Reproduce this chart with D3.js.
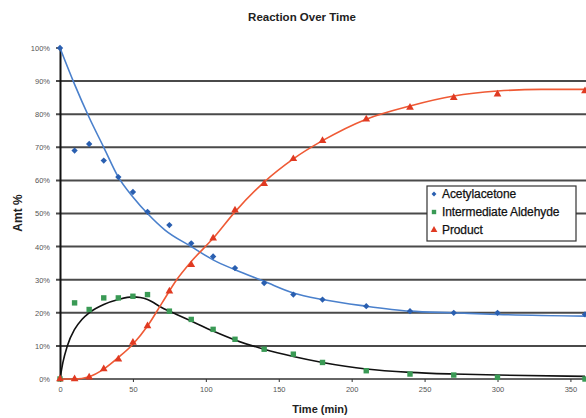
<!DOCTYPE html>
<html><head><meta charset="utf-8">
<script src="https://cdn.jsdelivr.net/npm/d3@7"></script>
<style>body{margin:0;background:#fff}svg{display:block;font-family:"Liberation Sans",Arial,sans-serif}</style>
</head><body><svg id="c" width="586" height="418"></svg>
<script>
// Measured data points
const times = [0,10,20,30,40,50,60,75,90,105,120,140,160,180,210,240,270,300,360];
const acetylacetone = [100,69,71,66,61,56.5,50.5,46.5,41,37,33.5,29,25.5,24,22,20.5,20,20,19.5];
const intermediate = [0,23,21,24.5,24.5,25,25.5,20.5,18,15,12,9,7.5,5,2.5,1.5,1.2,0.5,0];
const product = [0,0,0.5,3,6,11,16,26.5,34.5,42.5,51,59,66.5,72,78.5,82,85,86,87];
// Fitted curves
const fitAcetTimes = [0,10,20,30,40,50,60,72,90,105,120,140,160,180,210,240,270,300,360];
const fitAcet = [100,89,79,70,61,55,50,45,40,36,33,29.5,26,24,22,20.5,20,19.5,19];
const fitInterTimes = [0,2,5,10,15,20,30,40,50,55,60,70,80,90,105,120,140,160,180,210,240,270,300,360];
const fitInter = [0,5,10,15,18,20,22.5,24,24.8,24.6,24,21.5,19.5,17.5,14.5,11.8,9,6.8,5,3,2,1.5,1.2,0.8];
const fitProdTimes = [0,10,20,30,40,50,60,70,80,90,105,120,140,160,180,210,240,270,300,330,360];
const fitProd = [0,0,0.7,3,6.5,10.5,16,23,30,35.5,42.5,50.5,59.5,66.5,72,78.5,82.5,85.5,87,87.5,87.5];
const xTicks = [0,50,100,150,200,250,300,350];
const yTicks = [0,10,20,30,40,50,60,70,80,90,100];
const seriesNames = ["Acetylacetone","Intermediate Aldehyde","Product"];

const svg = d3.select("#c");
const x = d3.scaleLinear().domain([0,360]).range([60,585]);
const y = d3.scaleLinear().domain([0,100]).range([379,48]);

// Gridlines
svg.append("g").selectAll("line").data(yTicks.filter(d=>d>0 && d<100)).join("line")
  .attr("x1",56).attr("x2",586).attr("y1",d=>y(d)).attr("y2",d=>y(d))
  .attr("stroke","#4a4a4a").attr("stroke-width",2);
svg.append("line").attr("x1",56).attr("x2",60).attr("y1",y(100)).attr("y2",y(100)).attr("stroke","#333").attr("stroke-width",1.5);

// x axis
const xAxis = svg.append("g").attr("transform",`translate(0,${y(0)})`)
  .call(d3.axisBottom(x).tickValues(xTicks).tickSize(3).tickPadding(5));
xAxis.select(".domain").attr("stroke","#666").attr("stroke-width",2).attr("d",`M${x(0)},0H586`);
xAxis.selectAll(".tick line").attr("stroke","#333");
xAxis.selectAll("text").attr("font-size",7.5).attr("fill","#555");

// y axis
const yAxis = svg.append("g").attr("transform",`translate(${x(0)},0)`)
  .call(d3.axisLeft(y).tickValues(yTicks).tickFormat(d=>d+"%").tickSize(0).tickPadding(10));
yAxis.select(".domain").attr("stroke","#111").attr("stroke-width",2);
yAxis.selectAll("text").attr("font-size",7.5).attr("fill","#555");

// Fit lines
const line = d3.line().curve(d3.curveMonotoneX).x(d=>x(d[0])).y(d=>y(d[1]));
svg.append("path").datum(d3.zip(fitAcetTimes,fitAcet)).attr("d",line)
  .attr("fill","none").attr("stroke","#4a80cc").attr("stroke-width",1.6);
svg.append("path").datum(d3.zip(fitInterTimes,fitInter)).attr("d",line)
  .attr("fill","none").attr("stroke","#111").attr("stroke-width",1.6);
svg.append("path").datum(d3.zip(fitProdTimes,fitProd)).attr("d",line)
  .attr("fill","none").attr("stroke","#ef5a35").attr("stroke-width",1.6);

// Points
const blue="#2a5fb0", green="#3a9a55", red="#e03a22";
const diamond = d3.symbol(d3.symbolSquare,20)();
svg.append("g").selectAll("path").data(d3.zip(times,acetylacetone)).join("path")
  .attr("d",diamond).attr("fill",blue)
  .attr("transform",d=>`translate(${x(d[0])},${y(d[1])}) rotate(45)`);
svg.append("g").selectAll("rect").data(d3.zip(times,intermediate)).join("rect")
  .attr("x",d=>x(d[0])-2.7).attr("y",d=>y(d[1])-2.7).attr("width",5.4).attr("height",5.4).attr("fill",green);
svg.append("g").selectAll("path").data(d3.zip(times,product)).join("path")
  .attr("d",d3.symbol(d3.symbolTriangle,26)).attr("fill",red)
  .attr("transform",d=>`translate(${x(d[0])},${y(d[1])})`);

// Titles
svg.append("text").attr("x",302).attr("y",21).attr("text-anchor","middle")
  .attr("font-size",11.5).attr("font-weight","bold").attr("fill","#222").text("Reaction Over Time");
svg.append("text").attr("transform","translate(22,213) rotate(-90)").attr("text-anchor","middle")
  .attr("font-size",12).attr("font-weight","bold").attr("fill","#222").text("Amt %");
svg.append("text").attr("x",320).attr("y",413).attr("text-anchor","middle")
  .attr("font-size",11).attr("font-weight","bold").attr("fill","#222").text("Time (min)");

// Legend
const lg = svg.append("g");
lg.append("rect").attr("x",427).attr("y",186).attr("width",149).attr("height",55)
  .attr("fill","#fff").attr("stroke","#333").attr("stroke-width",1.2);
const ly = [198,216,234];
const items = lg.selectAll("g").data(seriesNames).join("g").attr("transform",(d,i)=>`translate(434,${ly[i]-4})`);
items.each(function(d,i){
  const g=d3.select(this);
  if(i===0) g.append("path").attr("d",d3.symbol(d3.symbolSquare,12)()).attr("transform","rotate(45)").attr("fill",blue);
  if(i===1) g.append("rect").attr("x",-2.2).attr("y",-2.2).attr("width",4.4).attr("height",4.4).attr("fill",green);
  if(i===2) g.append("path").attr("d",d3.symbol(d3.symbolTriangle,20)).attr("fill",red);
});
lg.selectAll("text").data(seriesNames).join("text").attr("x",442).attr("y",(d,i)=>ly[i])
  .attr("font-size",12).attr("fill","#111").attr("stroke","#111").attr("stroke-width",0.25)
  .attr("letter-spacing",-0.1).text(d=>d);
</script></body></html>
